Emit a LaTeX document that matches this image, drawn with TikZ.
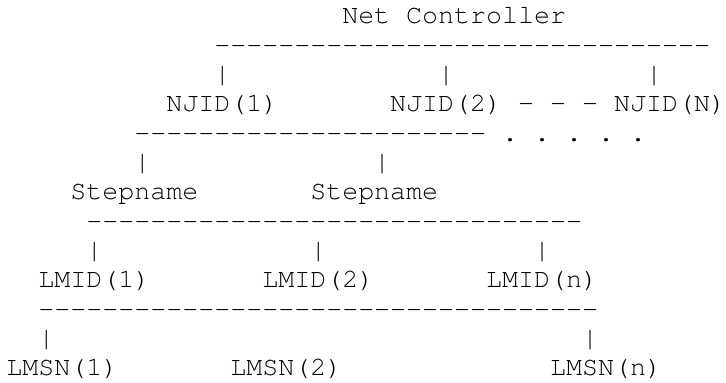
\documentclass[tikz,border=0pt]{standalone}
\usepackage{fontspec}
\setmonofont{texgyrecursor-regular.otf}
\newcommand\asciicell[4]{\node[txt] (#1) at ({6.5+16*#2},{24+29.333*#3}) {#4};}
\begin{document}
\begin{tikzpicture}[x=0.75pt,y=-0.75pt,
  txt/.style={font=\ttfamily\fontsize{20}{22}\selectfont, anchor=base west,
    inner sep=0pt, outer sep=0pt, text=black}]
\useasboundingbox (0,0) rectangle (726.5,383);
% row 0
\asciicell{nc}{21}{0}{Net Controller}
% row 1
\asciicell{bus1}{13}{1}{-------------------------------}
% row 2
\asciicell{p2a}{13}{2}{|}
\asciicell{p2b}{27}{2}{|}
\asciicell{p2c}{40}{2}{|}
% row 3
\asciicell{nj1}{10}{3}{NJID(1)}
\asciicell{nj2}{24}{3}{NJID(2)}
\asciicell{d3a}{32}{3}{-}
\asciicell{d3b}{34}{3}{-}
\asciicell{d3c}{36}{3}{-}
\asciicell{njn}{38}{3}{NJID(N)}
% row 4
\asciicell{bus2}{8}{4}{----------------------}
\asciicell{o1}{31}{4}{.}
\asciicell{o2}{33}{4}{.}
\asciicell{o3}{35}{4}{.}
\asciicell{o4}{37}{4}{.}
\asciicell{o5}{39}{4}{.}
% row 5
\asciicell{p5a}{8}{5}{|}
\asciicell{p5b}{23}{5}{|}
% row 6
\asciicell{st1}{4}{6}{Stepname}
\asciicell{st2}{19}{6}{Stepname}
% row 7
\asciicell{bus3}{5}{7}{-------------------------------}
% row 8
\asciicell{p8a}{5}{8}{|}
\asciicell{p8b}{19}{8}{|}
\asciicell{p8c}{33}{8}{|}
% row 9
\asciicell{lm1}{2}{9}{LMID(1)}
\asciicell{lm2}{16}{9}{LMID(2)}
\asciicell{lmn}{30}{9}{LMID(n)}
% row 10
\asciicell{bus4}{2}{10}{-----------------------------------}
% row 11
\asciicell{p11a}{2}{11}{|}
\asciicell{p11b}{36}{11}{|}
% row 12
\asciicell{ls1}{0}{12}{LMSN(1)}
\asciicell{ls2}{14}{12}{LMSN(2)}
\asciicell{lsn}{34}{12}{LMSN(n)}
\end{tikzpicture}
\end{document}
